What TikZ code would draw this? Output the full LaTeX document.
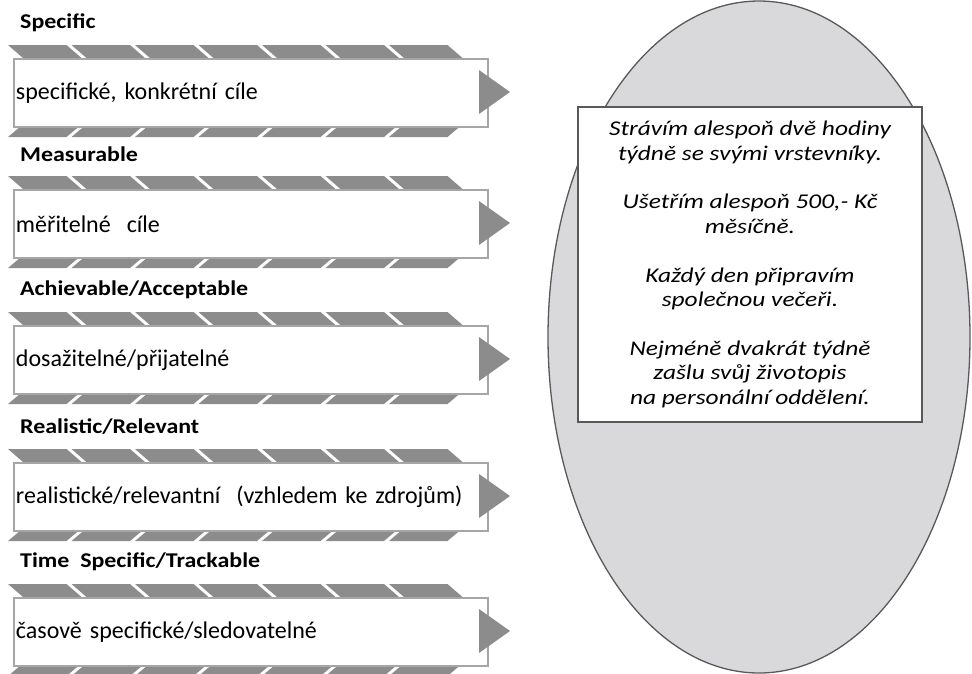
\documentclass[tikz,border=0pt]{standalone}
\usepackage{fontspec}
\setmainfont{Carlito}
\newfontfamily\widefont{Carlito}[FakeStretch=1.21]
\newfontfamily\headfont{Carlito}[FakeStretch=1.14]
\usetikzlibrary{shapes.geometric,positioning}
\definecolor{ribbongray}{RGB}{140,140,140}
\definecolor{framegray}{RGB}{166,166,166}
\definecolor{ovalgray}{RGB}{217,217,219}
\definecolor{edgegray}{RGB}{89,89,89}
\tikzset{rowtitle/.style={anchor=west, inner sep=0pt, font=\headfont\fontsize{21}{24}\selectfont\bfseries}}
\tikzset{goalbox/.style={rectangle, draw=framegray, line width=2pt, fill=white, anchor=north west, text width=470pt, align=left, inner xsep=2pt, minimum height=68pt, font=\fontsize{24}{28}\selectfont}}
\tikzset{ribbon/.style={fill=ribbongray}}
\tikzset{oval/.style={ellipse, draw=edgegray, line width=1.3pt, fill=ovalgray, minimum width=422pt, minimum height=672pt, inner sep=0pt}}
\tikzset{plans/.style={rectangle, draw=edgegray, line width=2pt, fill=white, minimum width=344pt, minimum height=315pt, align=center, font=\widefont\fontsize{21}{24.6}\selectfont\itshape}}

\begin{document}
\begin{tikzpicture}[x=1pt, y=-1pt]
\useasboundingbox (0,0) rectangle (972,673);
\foreach \yt/\head/\goal [count=\i] in {
    58/Specific/{specifické, konkrétní cíle},
    189/Measurable/{měřitelné\ \ cíle},
    325/{Achievable/Acceptable}/{dosažitelné/přijatelné},
    462/{Realistic/Relevant}/{realistické/relevantní\ \ (vzhledem ke zdrojům)},
    597/{Time\ \ Specific/Trackable}/{časově specifické/sledovatelné}} {
    \pgfmathsetmacro\yb{\yt+68}
    % stripes above and below the box
    \foreach \k in {0,...,6} {
        \pgfmathsetmacro\xa{8+\k*63.5}
        \pgfmathsetmacro\xb{\xa+58.5}
        \fill[ribbon] (\xa,\yt-13) -- (\xb,\yt-13) -- (\xb+15,\yt) -- (\xa+15,\yt) -- cycle;
        \fill[ribbon] (\xa+13,\yb) -- (\xb+13,\yb) -- (\xb,\yb+11) -- (\xa,\yb+11) -- cycle;
    }
    \node[goalbox] (box\i) at (13,\yt) {\goal};
    \node[rowtitle] (head\i) at (20,\yt-35) {\head};
    \fill[ribbon] (479,\yt+12) -- (510,\yt+34) -- (479,\yt+56) -- cycle;
}
\node[oval] (oval) at (759,337) {};
\node[plans] (plans) at (750,264.5) {Strávím alespoň dvě hodiny\\ týdně se svými vrstevníky.\\[24pt]
    Ušetřím alespoň 500,- Kč\\ měsíčně.\\[24pt]
    Každý den připravím\\ společnou večeři.\\[24pt]
    Nejméně dvakrát týdně\\ zašlu svůj životopis\\ na personální oddělení.};
\end{tikzpicture}
\end{document}
